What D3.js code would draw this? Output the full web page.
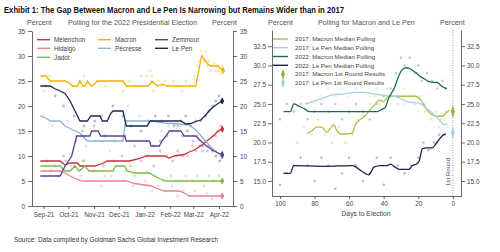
<!DOCTYPE html>
<html><head><meta charset="utf-8">
<script src="https://cdn.jsdelivr.net/npm/d3@7"></script>
<style>body{margin:0;background:#fff}svg{display:block}text{font-family:"Liberation Sans",Arial,sans-serif;fill:#333}</style>
</head><body><svg id="c" width="500" height="252"></svg>
<script>
// ---------- LEFT CHART DATA (median polling lines) ----------
const candidates = ["Mélenchon","Hidalgo","Jadot","Macron","Pécresse","Zemmour","Le Pen"];
const melenchonLine = [["2021-08-28",9],["2021-09-21",9],["2021-09-27",8.2],["2021-10-03",8.6],["2021-10-12",8.6],["2021-10-15",8],["2021-11-02",8],["2021-11-11",8.5],["2021-11-17",9],["2021-12-14",9],["2021-12-26",9.5],["2022-01-03",10],["2022-01-25",10],["2022-01-31",9.6],["2022-02-06",10],["2022-02-18",10.3],["2022-02-24",10.8],["2022-03-02",11.2],["2022-03-08",11.8],["2022-03-13",12.4],["2022-03-19",13.2],["2022-03-25",14],["2022-03-31",15],["2022-04-05",15.4]];
const hidalgoLine = [["2021-08-28",7],["2021-09-21",7],["2021-09-27",6.6],["2021-10-03",6],["2021-10-09",5.5],["2021-10-18",5],["2021-12-10",5],["2021-12-20",4.5],["2022-01-01",4.2],["2022-01-10",4],["2022-01-16",3.5],["2022-01-25",3],["2022-02-12",3],["2022-02-18",2.6],["2022-02-24",2],["2022-04-05",2]];
const jadotLine = [["2021-08-28",8],["2021-09-21",8],["2021-09-27",7],["2021-10-03",7],["2021-10-09",8],["2021-10-14",7],["2021-10-21",8],["2021-10-26",7],["2021-11-24",7],["2021-11-27",8],["2021-12-08",8],["2021-12-11",7],["2021-12-20",6.6],["2022-01-07",6.6],["2022-01-13",6],["2022-01-19",5.5],["2022-01-27",5],["2022-04-05",5]];
const macronLine = [["2021-08-28",26],["2021-09-04",26],["2021-09-09",25],["2021-09-27",25],["2021-10-03",24.5],["2021-10-06",24],["2021-10-12",24],["2021-10-15",25],["2021-10-18",24],["2021-10-21",24],["2021-10-24",25],["2021-10-27",24.3],["2021-10-30",24],["2021-11-05",25],["2021-12-06",25],["2021-12-10",24],["2022-01-06",24],["2022-01-10",25],["2022-01-13",24.5],["2022-01-17",24],["2022-01-22",24.4],["2022-01-28",24],["2022-03-04",24],["2022-03-11",30],["2022-03-14",29.4],["2022-03-18",28.5],["2022-03-22",28],["2022-03-31",28],["2022-04-03",27.5],["2022-04-06",27.1]];
const pecresseLine = [["2021-08-28",18],["2021-09-05",17.5],["2021-09-09",17],["2021-09-21",17],["2021-09-27",16],["2021-10-03",15.5],["2021-10-09",15],["2021-10-15",14.6],["2021-10-21",13.5],["2021-10-24",13],["2021-12-06",13],["2021-12-09",17],["2022-01-10",17],["2022-01-25",16.6],["2022-02-12",16.4],["2022-02-24",16.2],["2022-03-02",15.5],["2022-03-08",14.5],["2022-03-14",13.3],["2022-03-20",12.2],["2022-03-26",11.2],["2022-03-31",10.6],["2022-04-05",10]];
const zemmourLine = [["2021-08-28",6],["2021-09-21",6],["2021-09-27",8],["2021-10-05",10],["2021-10-11",14],["2021-10-27",14],["2021-10-29",15],["2021-11-06",15],["2021-11-09",14],["2021-12-08",14],["2021-12-10",13],["2022-01-07",13],["2022-01-09",12],["2022-01-19",12],["2022-01-22",13],["2022-01-27",14],["2022-01-31",15],["2022-02-14",15],["2022-02-18",14],["2022-03-04",14],["2022-03-10",13],["2022-03-17",12],["2022-03-24",11.2],["2022-03-31",10.6],["2022-04-05",10.3]];
const lepenLine = [["2021-08-28",24],["2021-09-09",24],["2021-09-14",23.5],["2021-09-21",23],["2021-09-27",22.5],["2021-10-03",21],["2021-10-09",19],["2021-10-15",17],["2021-10-24",17],["2021-10-28",18],["2021-11-08",18],["2021-11-11",17],["2021-11-17",17],["2021-11-21",18.5],["2021-11-24",19],["2021-12-06",19],["2021-12-10",16],["2022-01-04",16],["2022-01-08",17],["2022-02-14",17],["2022-02-20",16.4],["2022-02-26",16.5],["2022-03-04",16.9],["2022-03-10",17.2],["2022-03-16",18.2],["2022-03-20",19],["2022-03-25",19.8],["2022-03-30",20.4],["2022-04-05",21]];

// ---------- LEFT CHART DATA (individual polls) ----------
const melenchonPolls = [["2021-09-05",9],["2021-09-15",8],["2021-09-25",10],["2021-10-08",8],["2021-10-20",9],["2021-11-01",7],["2021-11-12",8],["2021-11-25",9],["2021-12-05",10],["2021-12-15",8],["2021-12-28",9],["2022-01-05",10],["2022-01-12",8],["2022-01-20",11],["2022-01-28",10],["2022-02-04",9],["2022-02-10",11],["2022-02-16",10],["2022-02-22",10],["2022-02-28",12],["2022-03-04",11],["2022-03-08",12],["2022-03-12",11],["2022-03-16",13],["2022-03-20",12],["2022-03-24",14],["2022-03-28",14],["2022-04-01",15],["2022-04-03",16],["2022-04-05",15]];
const hidalgoPolls = [["2021-09-03",7],["2021-09-18",6],["2021-10-02",7],["2021-10-16",6],["2021-10-30",5],["2021-11-10",4],["2021-11-22",6],["2021-12-06",5],["2021-12-18",4],["2022-01-02",5],["2022-01-10",3],["2022-01-18",4],["2022-01-26",3],["2022-02-03",4],["2022-02-10",2],["2022-02-17",3],["2022-02-24",2],["2022-03-03",3],["2022-03-10",2],["2022-03-17",2.5],["2022-03-24",1.5],["2022-03-30",2],["2022-04-04",2]];
const jadotPolls = [["2021-09-04",8],["2021-09-20",7],["2021-10-04",8],["2021-10-18",9],["2021-11-03",7],["2021-11-14",6],["2021-11-28",8],["2021-12-08",7],["2021-12-20",6],["2022-01-04",7],["2022-01-14",6],["2022-01-24",5],["2022-02-02",6],["2022-02-12",5],["2022-02-20",6],["2022-02-28",5],["2022-03-06",6],["2022-03-14",4],["2022-03-20",6],["2022-03-26",5],["2022-04-01",6],["2022-04-05",5]];
const macronPolls = [["2021-09-02",23],["2021-09-08",26],["2021-09-20",25],["2021-10-06",24],["2021-10-14",25],["2021-10-20",26],["2021-10-28",24],["2021-11-05",25],["2021-11-15",24],["2021-11-25",25],["2021-12-06",23],["2021-12-14",25],["2021-12-20",24],["2021-12-28",26],["2022-01-04",26],["2022-01-08",27],["2022-01-10",26],["2022-01-12",23],["2022-01-18",25],["2022-01-22",24],["2022-01-26",25],["2022-02-01",24],["2022-02-05",25],["2022-02-10",24],["2022-02-15",23],["2022-02-20",25],["2022-02-25",24],["2022-03-02",26],["2022-03-06",28],["2022-03-08",29],["2022-03-10",31],["2022-03-12",30],["2022-03-14",29],["2022-03-16",31],["2022-03-18",28],["2022-03-20",29],["2022-03-22",27],["2022-03-24",28],["2022-03-26",28.5],["2022-03-28",27],["2022-03-30",28],["2022-04-01",27],["2022-04-03",26.5],["2022-04-05",28]];
const pecressePolls = [["2021-09-01",18],["2021-09-12",16],["2021-09-30",17],["2021-10-10",14],["2021-10-22",12],["2021-11-06",13],["2021-11-20",11],["2021-12-05",13],["2021-12-12",20],["2021-12-18",17],["2021-12-26",18],["2022-01-05",16],["2022-01-15",17],["2022-01-22",15],["2022-01-30",16],["2022-02-08",17],["2022-02-14",16],["2022-02-22",15],["2022-03-01",14],["2022-03-07",13],["2022-03-12",12],["2022-03-18",12],["2022-03-24",11],["2022-03-29",10],["2022-04-02",9],["2022-04-05",10]];
const zemmourPolls = [["2021-09-10",7],["2021-09-28",9],["2021-10-10",13],["2021-10-18",15],["2021-11-01",16],["2021-11-14",14],["2021-11-26",13],["2021-12-08",14],["2021-12-20",12],["2022-01-03",13],["2022-01-12",12],["2022-01-20",13],["2022-01-28",14],["2022-02-04",15],["2022-02-10",16],["2022-02-16",14],["2022-02-22",15],["2022-03-01",13],["2022-03-06",14],["2022-03-12",12],["2022-03-18",11],["2022-03-24",11],["2022-03-28",10],["2022-04-02",9],["2022-04-05",10]];
const lepenPolls = [["2021-09-03",24],["2021-09-15",22],["2021-09-25",20],["2021-10-08",18],["2021-10-20",16],["2021-11-02",17],["2021-11-10",18],["2021-11-24",20],["2021-12-06",18],["2021-12-16",16],["2021-12-28",15],["2022-01-06",17],["2022-01-14",18],["2022-01-22",17],["2022-01-30",18],["2022-02-06",16],["2022-02-14",17],["2022-02-20",18],["2022-02-26",16],["2022-03-04",17],["2022-03-10",17],["2022-03-16",18],["2022-03-20",19],["2022-03-24",20],["2022-03-28",21],["2022-04-01",22],["2022-04-04",21]];
const monthTicks = ["2021-09-01","2021-10-01","2021-11-01","2021-12-01","2022-01-01","2022-02-01","2022-03-01","2022-04-01"];
const leftYTicks = [0,5,10,15,20,25,30,35];

// ---------- RIGHT CHART DATA (days to election) ----------
const rightSeries = ["2017: Macron Median Polling","2017: Le Pen Median Polling","2022: Macron Median Polling","2022: Le Pen Median Polling","2017: Macron 1st Round Results","2017: Le Pen 1st Round Results"];
const macron2017Line = [[84.5,21.1],[81.6,21.5],[78.7,22],[75.8,22],[72.9,21.3],[71,21.8],[69,22.3],[67,21.5],[65.1,21.1],[61.2,21.1],[58.3,21.2],[56.4,22.3],[53.5,23],[50.6,23.5],[47.7,24.3],[44.8,25],[42.8,25.5],[40,25.3],[37,26],[32.2,26],[26.4,26],[21.5,26],[18.6,25.5],[15.7,24.5],[12.8,23.7],[8.9,23.4],[6,23.4],[4.1,23.8],[2.1,24.2]];
const lepen2017Line = [[85.5,25],[80.7,25.3],[74.9,25.8],[69,26.2],[63,26.3],[57.4,26.5],[51.6,26.5],[45.8,26.3],[40,26.1],[34,26],[30.2,25.7],[26.4,25.3],[22.5,25.2],[18.6,25],[15.7,24.5],[12.8,24],[9.9,23.4],[7,22.7],[5,22.3],[3.1,22.4]];
const macron2022Line = [[98,24],[94,24],[92,25],[89,24.7],[86,24.4],[83,24],[76,24],[44,24],[41,24.3],[39,24.6],[37,25.8],[35,26.6],[34,27],[31,28.8],[29,29.5],[27,29.7],[25,29.6],[23,29.3],[21,29],[19,28.6],[16,28.2],[14,27.9],[11,27.8],[9,27.8],[7,27.4],[5,27.1],[3.5,27]];
const lepen2022Line = [[98,16],[94,16],[92,17],[74,16.9],[58,17],[56,16.8],[53.5,16.4],[50,15.9],[48.6,15.8],[47,16.3],[45.7,16.8],[42,17],[38,17],[36,17.2],[34,16.9],[31,16.5],[25.4,16.5],[23.4,17],[21,17.2],[19.5,17.6],[17.6,19.2],[15,19.3],[11.8,19.3],[9.9,19.8],[7.9,20.4],[5.4,21],[4.1,21.1]];
const macron2017Polls = [[90,20],[86,22],[82,21],[78,23],[74,21],[70,20],[66,22],[62,20],[58,21],[55,23],[52,24],[48,25],[45,26],[42,25],[38,27],[35,26],[32,25],[28,27],[25,26],[22,25],[19,26],[16,24],[13,23],[10,24],[7,23],[4,24]];
const lepen2017Polls = [[88,26],[84,25],[80,24],[76,26],[72,27],[68,26],[64,27],[60,26],[56,27],[52,28],[48,26],[44,27],[40,26],[36,25],[32,26],[28,25],[24,26],[20,24],[16,25],[12,23],[8,22],[5,23],[3,22]];
const macron2022Polls = [[100,23],[96,25],[92,24],[88,25],[84,23],[80,24],[76,25],[72,24],[68,25],[64,23],[60,24],[56,25],[52,24],[48,23],[44,25],[40,26],[36,27],[33,29],[30,31],[28,30],[25,31],[22,29],[20,30],[18,28],[15,29],[12,28],[9,27],[6,28],[4,27]];
const lepen2022Polls = [[100,14.5],[96,16],[92,17],[88,18],[84,17],[80,15],[76,18],[72,17],[68,14],[64,16],[60,18],[56,17],[52,15],[48,16],[44,18],[40,14.5],[36,18],[32,17],[28,16],[24,17],[20,18],[17,20],[14,19],[11,20],[8,21],[5,21]];
const firstRound2017 = [["Macron",24.01],["Le Pen",21.3]];
const dayTicks = [100,80,60,40,20,0];
const rightYTicks = [15,17.5,20,22.5,25,27.5,30,32.5];

// ---------- STYLE ----------
const colL = {"Mélenchon":"#c8313b","Hidalgo":"#e8838c","Jadot":"#7cbb48","Macron":"#f2b200","Pécresse":"#8eb2cb","Zemmour":"#5c3f94","Le Pen":"#1b2a4b"};
const colR = ["#a6c449","#a9cde3","#1f6b45","#16244b"];

const svg = d3.select("#c");
const parse = d3.timeParse("%Y-%m-%d");
const narrow = '"Liberation Sans Narrow","DejaVu Sans Condensed","Arial Narrow",sans-serif';

svg.append("text").attr("x",4).attr("y",12.5).attr("font-family",narrow).attr("font-weight","bold")
  .attr("font-size",9.6).style("fill","#111").attr("textLength",340).attr("lengthAdjust","spacingAndGlyphs")
  .text("Exhibit 1: The Gap Between Macron and Le Pen Is Narrowing but Remains Wider than in 2017");
svg.append("text").attr("x",14).attr("y",242).attr("font-family",narrow).attr("font-size",7.4).style("fill","#333")
  .attr("textLength",204).attr("lengthAdjust","spacingAndGlyphs")
  .text("Source: Data compiled by Goldman Sachs Global Investment Research");

function hdr(x,t,anchor){svg.append("text").attr("x",x).attr("y",25).attr("font-size",7.2).attr("text-anchor",anchor||"start").style("fill","#555").text(t);}
hdr(27,"Percent");hdr(68,"Polling for the 2022 Presidential Election");hdr(212,"Percent");
hdr(268,"Percent");hdr(318,"Polling for Macron and Le Pen");hdr(440,"Percent");

function styleAxis(g){g.selectAll("path,line").attr("stroke","#444").attr("stroke-width",0.8);
  g.selectAll("text").attr("font-size",6.4).style("fill","#444").attr("font-family",'"Liberation Sans",Arial,sans-serif');}

// ---------- LEFT CHART ----------
const xL = d3.scaleTime().domain([parse("2021-08-18"),parse("2022-04-18")]).range([32,233]);
const yL = d3.scaleLinear().domain([0,35]).range([206,31]);
const gL = svg.append("g");
const leftSeries = [
 ["Mélenchon",melenchonLine,melenchonPolls],["Hidalgo",hidalgoLine,hidalgoPolls],["Jadot",jadotLine,jadotPolls],
 ["Macron",macronLine,macronPolls],["Pécresse",pecresseLine,pecressePolls],["Zemmour",zemmourLine,zemmourPolls],["Le Pen",lepenLine,lepenPolls]];
leftSeries.forEach(([n,line,polls])=>{
  gL.append("g").selectAll("circle").data(polls).join("circle")
    .attr("cx",d=>xL(parse(d[0]))).attr("cy",d=>yL(d[1])).attr("r",1.4)
    .attr("fill",colL[n]).attr("opacity",0.3);
});
const lineL = d3.line().x(d=>xL(parse(d[0]))).y(d=>yL(d[1]));
leftSeries.forEach(([n,line])=>{
  gL.append("path").datum(line).attr("d",lineL).attr("fill","none").attr("stroke",colL[n]).attr("stroke-width",1.3);
  const last = line[line.length-1];
  const cx = xL(parse(last[0])), cy = yL(last[1]);
  gL.append("line").attr("x1",cx).attr("x2",cx).attr("y1",cy-3).attr("y2",cy+3).attr("stroke",colL[n]).attr("stroke-width",1);
  gL.append("path").attr("d",d3.symbol(d3.symbolDiamond,14)()).attr("transform",`translate(${cx},${cy})`).attr("fill",colL[n]);
});
const axL = gL.append("g").attr("transform","translate(32,0)").call(d3.axisLeft(yL).tickValues(leftYTicks).tickSize(4).tickSizeOuter(0).tickPadding(3));
styleAxis(axL);
const axL2 = gL.append("g").attr("transform","translate(233,0)").call(d3.axisRight(yL).tickValues(leftYTicks).tickSize(4).tickSizeOuter(0).tickPadding(3));
styleAxis(axL2);
const axLx = gL.append("g").attr("transform","translate(0,206)").call(d3.axisBottom(xL).tickValues(monthTicks.map(parse)).tickFormat(d3.timeFormat("%b-%y")).tickSize(3).tickSizeOuter(0).tickPadding(3));
styleAxis(axLx);

// left legend
const legL = [["Mélenchon",37,39.7],["Hidalgo",37,48.3],["Jadot",37,57.3],["Macron",98,39.7],["Pécresse",98,48.3],["Zemmour",155,39.7],["Le Pen",155,48.3]];
legL.forEach(([n,x,y])=>{
  svg.append("line").attr("x1",x).attr("x2",x+13).attr("y1",y).attr("y2",y).attr("stroke",colL[n]).attr("stroke-width",1.4);
  svg.append("text").attr("x",x+17).attr("y",y+2.3).attr("font-size",6.4).style("fill","#444").text(n);
});

// ---------- RIGHT CHART ----------
const xR = d3.scaleLinear().domain([104.6,-4.7]).range([272,461]);
const yR = d3.scaleLinear().domain([13.05,34.6]).range([196,30]);
const gR = svg.append("g");
const rightData = [[macron2017Line,macron2017Polls],[lepen2017Line,lepen2017Polls],[macron2022Line,macron2022Polls],[lepen2022Line,lepen2022Polls]];
rightData.forEach(([line,polls],i)=>{
  gR.append("g").selectAll("circle").data(polls).join("circle")
    .attr("cx",d=>xR(d[0])).attr("cy",d=>yR(d[1])).attr("r",1.3).attr("fill",colR[i]).attr("opacity",0.3);
});
gR.append("line").attr("x1",xR(0)).attr("x2",xR(0)).attr("y1",30).attr("y2",196).attr("stroke","#888").attr("stroke-width",0.8).attr("stroke-dasharray","1,1.5");
const lineR = d3.line().x(d=>xR(d[0])).y(d=>yR(d[1])).curve(d3.curveMonotoneX);
rightData.forEach(([line],i)=>{
  gR.append("path").datum(line).attr("d",lineR).attr("fill","none").attr("stroke",colR[i]).attr("stroke-width",1.3);
});
firstRound2017.forEach(([n,v],i)=>{
  const c = i===0?"#8fb23a":colR[1];
  const cx = xR(0), cy = yR(v);
  gR.append("line").attr("x1",cx).attr("x2",cx).attr("y1",cy-5).attr("y2",cy+5).attr("stroke",c).attr("stroke-width",1);
  gR.append("path").attr("d",d3.symbol(d3.symbolDiamond,22)()).attr("transform",`translate(${cx},${cy}) scale(0.8,1.3)`).attr("fill",c);
});
gR.append("text").attr("transform",`translate(${xR(0)-2.5},172) rotate(-90)`).attr("text-anchor","middle").attr("font-size",6.2).style("fill","#444").text("1st Round");
const fmt = d3.format(".1f");
const axR = gR.append("g").attr("transform","translate(272,0)").call(d3.axisLeft(yR).tickValues(rightYTicks).tickFormat(fmt).tickSize(4).tickSizeOuter(0).tickPadding(2));
styleAxis(axR);
const axR2 = gR.append("g").attr("transform","translate(461,0)").call(d3.axisRight(yR).tickValues(rightYTicks).tickFormat(fmt).tickSize(4).tickSizeOuter(0).tickPadding(2));
styleAxis(axR2);
const axRx = gR.append("g").attr("transform","translate(0,196)").call(d3.axisBottom(xR).tickValues(dayTicks).tickSize(3).tickSizeOuter(0).tickPadding(2));
styleAxis(axRx);
svg.append("text").attr("x",366).attr("y",216).attr("text-anchor","middle").attr("font-size",6.8).style("fill","#444").text("Days to Election");

// right legend
const legRy = [39,47.7,56.5,65.3,74.2,82.6];
rightSeries.forEach((n,i)=>{
  const y = legRy[i];
  if(i<4){
    svg.append("line").attr("x1",273).attr("x2",288).attr("y1",y).attr("y2",y).attr("stroke",colR[i]).attr("stroke-width",1.4);
  } else {
    const c = i===4?"#8fb23a":colR[1];
    svg.append("line").attr("x1",283).attr("x2",283).attr("y1",y-4).attr("y2",y+4).attr("stroke",c).attr("stroke-width",1);
    svg.append("path").attr("d",d3.symbol(d3.symbolDiamond,18)()).attr("transform",`translate(283,${y}) scale(0.8,1.3)`).attr("fill",c);
  }
  svg.append("text").attr("x",295).attr("y",y+2.2).attr("font-size",6.2).style("fill","#444").text(n);
});
</script></body></html>
